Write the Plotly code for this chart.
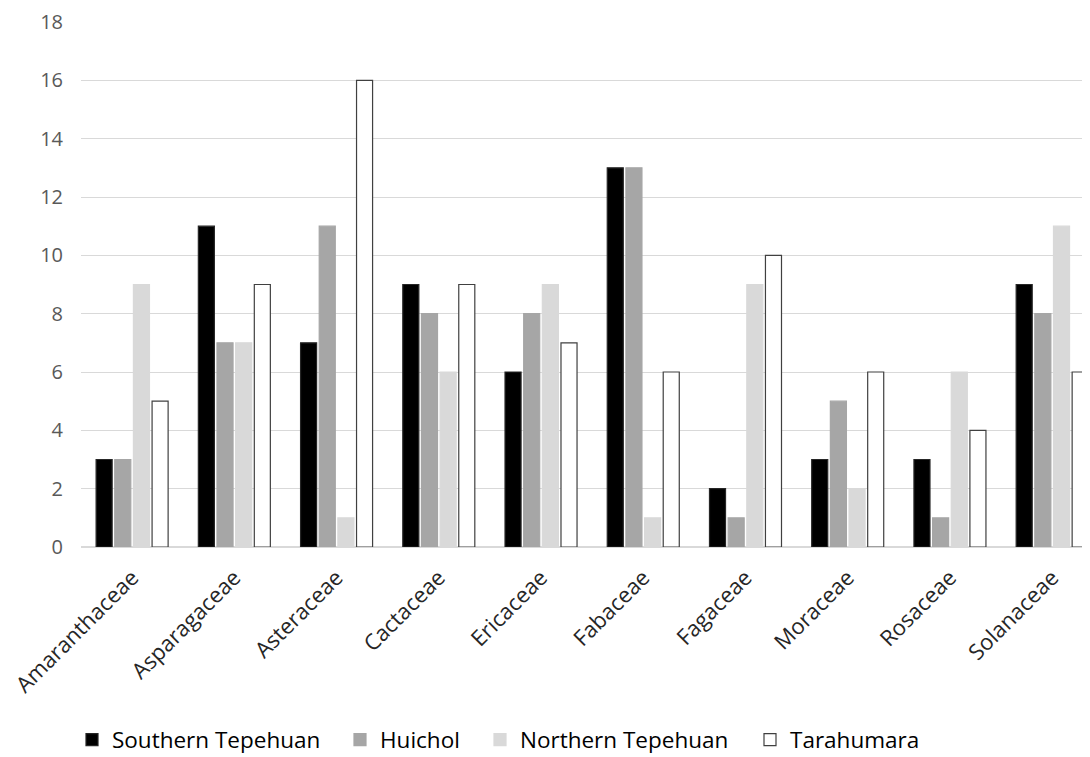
import plotly.graph_objects as go

categories = ["Amaranthaceae", "Asparagaceae", "Asteraceae", "Cactaceae", "Ericaceae",
              "Fabaceae", "Fagaceae", "Moraceae", "Rosaceae", "Solanaceae"]
southern_tepehuan = [3, 11, 7, 9, 6, 13, 2, 3, 3, 9]
huichol = [3, 7, 11, 8, 8, 13, 1, 5, 1, 8]
northern_tepehuan = [9, 7, 1, 6, 9, 1, 9, 2, 6, 11]
tarahumara = [5, 9, 16, 9, 7, 6, 10, 6, 4, 6]

series = [
    ("Southern Tepehuan", southern_tepehuan, "#000000", "#262626"),
    ("Huichol", huichol, "#a6a6a6", "#a6a6a6"),
    ("Northern Tepehuan", northern_tepehuan, "#d9d9d9", "#d9d9d9"),
    ("Tarahumara", tarahumara, "#ffffff", "#404040"),
]
legend_x_px = [64, 332, 472, 742]

# page has an 8px body margin; size the figure so it fits the 1090x757 window
W, H = 1082, 749
fig = go.Figure()
legend_layouts = {}
for i, (name, vals, fill, line) in enumerate(series):
    lg = f"legend{i+2}"
    fig.add_trace(go.Bar(
        x=categories, y=vals, name=name, legend=lg,
        marker=dict(color=fill, line=dict(color=line, width=1.2)),
    ))
    legend_layouts[lg] = dict(
        orientation="h", xref="container", yref="container",
        x=legend_x_px[i] / W, xanchor="left",
        y=(H - 732) / H, yanchor="middle",
        font=dict(size=22.5, color="#000000"), itemwidth=30,
        bgcolor="rgba(0,0,0,0)", visible=True,
    )

fig.update_layout(
    width=W, height=H, showlegend=True,
    barmode="group", bargap=0.27, bargroupgap=0.14,
    plot_bgcolor="white", paper_bgcolor="white",
    margin=dict(l=71, r=0, t=14, b=210),
    font=dict(family="'Open Sans', Lato, sans-serif", color="#595959", size=18),
    xaxis=dict(range=[-0.5, 9.37], tickangle=-45, showgrid=False,
               showline=True, linecolor="#d9d9d9", linewidth=1,
               tickfont=dict(size=22, color="#262626"), ticks="",
               ticklabelstandoff=8),
    yaxis=dict(range=[0, 18], dtick=2, showgrid=True, gridcolor="#d9d9d9", gridwidth=1,
               zeroline=True, zerolinecolor="#d9d9d9", showline=False,
               tickfont=dict(size=20, color="#595959"), ticklabelstandoff=17),
    legend=dict(visible=False),
    **legend_layouts,
)

fig.write_html("out.html")
